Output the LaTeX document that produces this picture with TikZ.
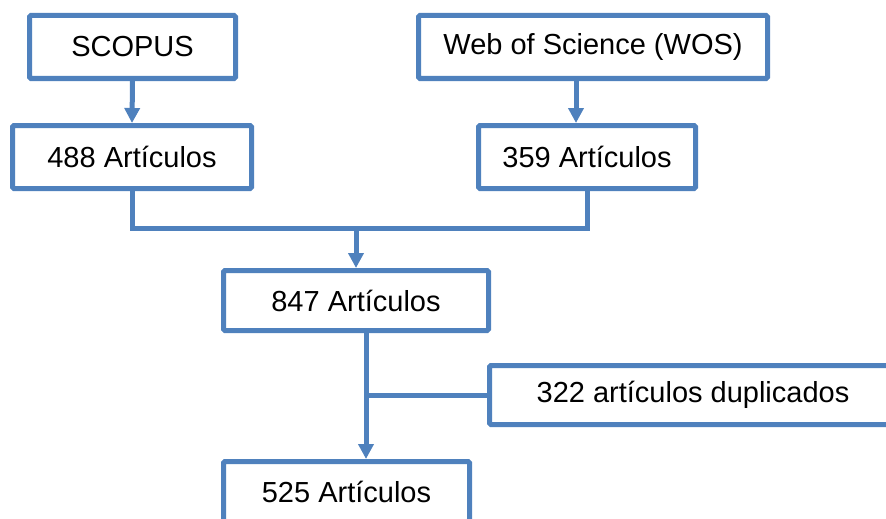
\documentclass[tikz,border=0pt]{standalone}
\usepackage{fontspec}
\setmainfont{Liberation Sans}
\usetikzlibrary{arrows.meta,shadows}
\definecolor{boxblue}{HTML}{4F81BD}
\begin{document}
\begin{tikzpicture}[x=1pt,y=-1pt,
  box/.style={draw=boxblue, line width=5pt, fill=white, rounded corners=1.5pt,
    inner sep=0pt, font=\fontsize{29}{34}\selectfont,
    drop shadow={opacity=0.18, shadow xshift=1.5pt, shadow yshift=-1.5pt}},
  conn/.style={draw=boxblue, line width=5pt},
  arr/.style={conn, -{Triangle[width=15pt,length=15pt]}}]
\useasboundingbox (0,0) rectangle (886,519);
\node[box, minimum width=206pt, minimum height=63pt] (scopus) at (132.5,47) {SCOPUS};
\node[box, minimum width=349pt, minimum height=63pt] (wos) at (593,47) {Web of Science (WOS)};
\node[box, minimum width=239pt, minimum height=63pt] (a488) at (132,157) {488 Artículos};
\node[box, minimum width=217pt, minimum height=63pt] (a359) at (587,157) {359 Artículos};
\node[box, minimum width=265pt, minimum height=60pt] (a847) at (356,300.5) {847 Artículos};
\node[box, minimum width=407pt, minimum height=59pt] (dup) at (693,395) {322 artículos duplicados};
\node[box, minimum width=246pt, minimum height=60pt] (a525) at (346.5,491.5) {525 Artículos};
\coordinate (xw) at (576,0);
\coordinate (jn) at (356,228);
\coordinate (xl) at (366,0);
\draw[arr] (scopus.south) -- (a488.north);
\draw[arr] (wos.south -| xw) -- (a359.north -| xw);
\draw[conn] (a488.south) |- (jn) -| (a359.south);
\draw[arr] (jn) -- (a847.north);
\draw[arr] (a847.south -| xl) -- (a525.north -| xl);
\draw[conn] (dup.west) -- (dup.west -| xl);
\end{tikzpicture}
\end{document}
